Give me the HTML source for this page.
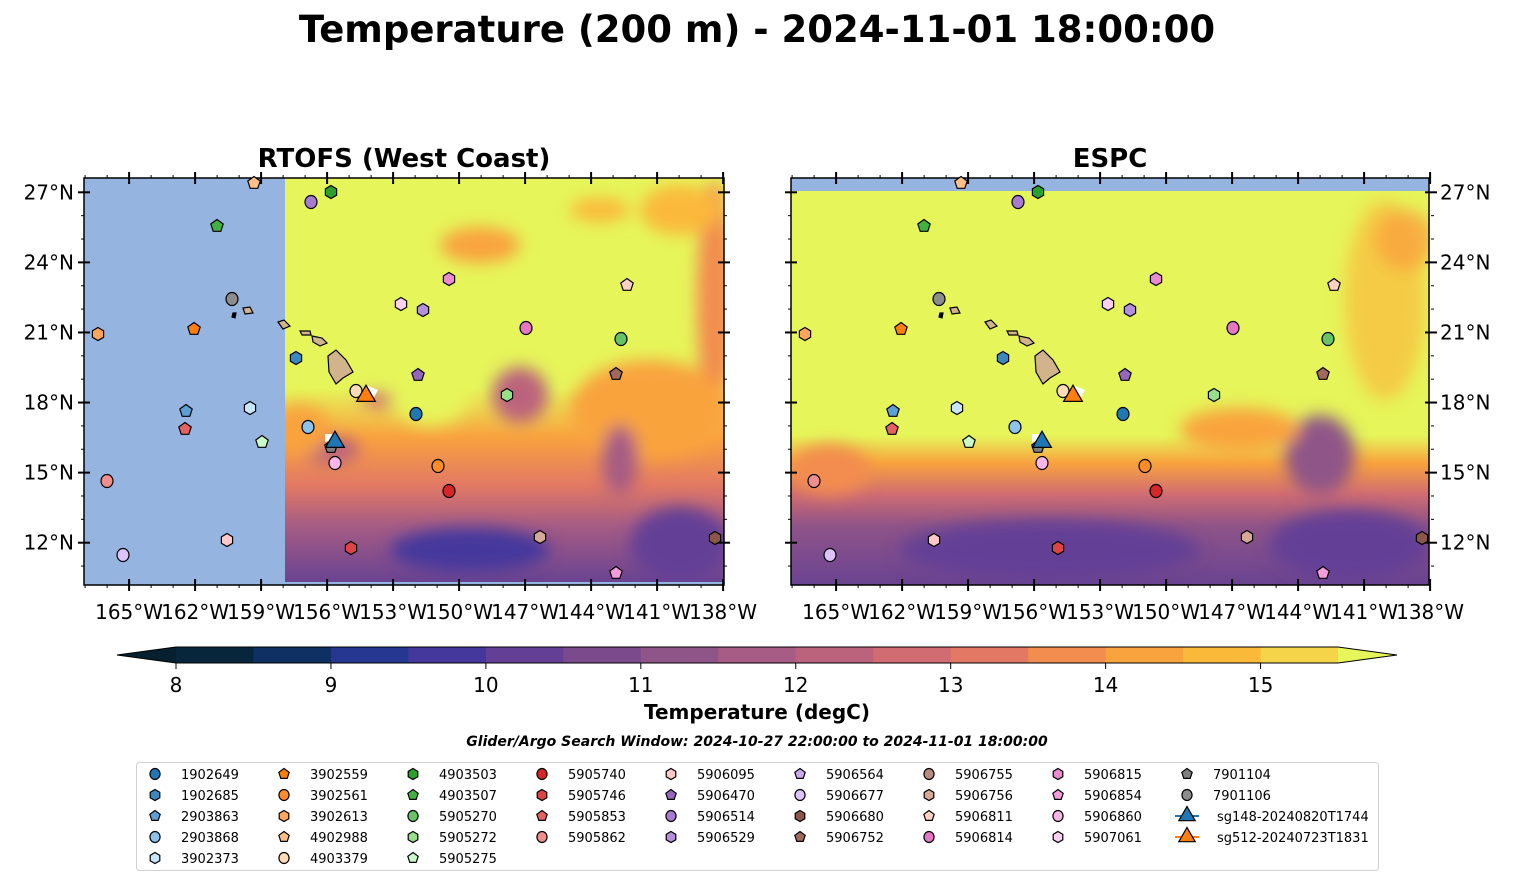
<!DOCTYPE html>
<html><head><meta charset="utf-8"><style>
body{margin:0;background:#fff;width:1514px;height:889px;overflow:hidden}
svg text{font-family:"DejaVu Sans","Liberation Sans",sans-serif}
</style></head><body>
<svg id="s" width="1514" height="889" xmlns="http://www.w3.org/2000/svg">
<defs>
<filter id="b8" x="-20%" y="-20%" width="140%" height="140%"><feGaussianBlur stdDeviation="8"/></filter>
<clipPath id="cl"><rect x="285" y="178" width="439" height="404"/></clipPath>
<clipPath id="cr"><rect x="791" y="191" width="638" height="394"/></clipPath>
<linearGradient id="gl" x1="0" y1="0" x2="0" y2="1">
<stop offset="0" stop-color="#e6f55a"/><stop offset="0.52" stop-color="#e6f55a"/>
<stop offset="0.64" stop-color="#f9a33e"/><stop offset="0.76" stop-color="#e37964"/>
<stop offset="0.86" stop-color="#a65c84"/><stop offset="1" stop-color="#6a4391"/></linearGradient>
<linearGradient id="gr" x1="0" y1="0" x2="0" y2="1">
<stop offset="0" stop-color="#e6f55a"/><stop offset="0.62" stop-color="#e6f55a"/>
<stop offset="0.69" stop-color="#f9a33e"/><stop offset="0.77" stop-color="#d06c72"/>
<stop offset="0.85" stop-color="#8f5488"/><stop offset="1" stop-color="#6a4391"/></linearGradient>
</defs>
<text x="757" y="42" font-size="37" font-weight="bold" text-anchor="middle">Temperature (200 m) - 2024-11-01 18:00:00</text>
<text x="404" y="167" font-size="26" font-weight="bold" text-anchor="middle">RTOFS (West Coast)</text>
<text x="1110" y="167" font-size="26" font-weight="bold" text-anchor="middle">ESPC</text>

<rect x="84" y="178" width="640" height="407" fill="#96b4e0"/>
<g clip-path="url(#cl)">
<rect x="285" y="178" width="439" height="404" fill="url(#gl)"/>
<g filter="url(#b8)">
<ellipse cx="480" cy="245" rx="40" ry="18" fill="#f9a33e"/>
<ellipse cx="715" cy="300" rx="18" ry="120" fill="#f28c4f"/>
<ellipse cx="680" cy="210" rx="40" ry="25" fill="#fbb93a"/>
<ellipse cx="600" cy="210" rx="30" ry="12" fill="#fbb93a"/>
<ellipse cx="650" cy="410" rx="80" ry="50" fill="#f9a33e"/>
<ellipse cx="520" cy="395" rx="28" ry="28" fill="#bb637d"/>
<ellipse cx="390" cy="400" rx="30" ry="8" fill="#d06c72"/>
<ellipse cx="330" cy="450" rx="30" ry="14" fill="#bb637d"/>
<ellipse cx="300" cy="430" rx="30" ry="25" fill="#f9a33e"/>
<ellipse cx="430" cy="395" rx="40" ry="30" fill="#e6f55a"/>
<ellipse cx="470" cy="550" rx="80" ry="22" fill="#45389d"/>
<ellipse cx="680" cy="545" rx="50" ry="38" fill="#643f96"/>
<ellipse cx="620" cy="460" rx="18" ry="35" fill="#a65c84"/>
</g></g>
<rect x="84" y="178" width="640" height="407" fill="none" stroke="#000" stroke-width="1.5"/>

<rect x="791" y="178" width="638" height="407" fill="#96b4e0"/>
<g clip-path="url(#cr)">
<rect x="791" y="191" width="638" height="394" fill="url(#gr)"/>
<g filter="url(#b8)">
<ellipse cx="1385" cy="300" rx="40" ry="100" fill="#fbb93a" opacity="0.7"/>
<ellipse cx="1405" cy="240" rx="30" ry="30" fill="#f9a33e" opacity="0.8"/>
<ellipse cx="1320" cy="455" rx="35" ry="40" fill="#8f5488"/>
<ellipse cx="1240" cy="430" rx="60" ry="22" fill="#f9a33e"/>
<ellipse cx="1050" cy="550" rx="150" ry="30" fill="#643f96"/>
<ellipse cx="1350" cy="545" rx="80" ry="35" fill="#643f96"/>
<ellipse cx="830" cy="470" rx="40" ry="25" fill="#f28c4f"/>
</g></g>
<rect x="791" y="178" width="638" height="407" fill="none" stroke="#000" stroke-width="1.5"/>
<g id="isl" fill="#d2b48c" stroke="#000" stroke-width="1.2"></g>
<g id="ticks" stroke="#000"></g>
<g id="labs" font-size="20"></g>
<g id="mk" stroke="#000" stroke-width="1.3"></g>
<g id="cb"></g>
<text x="757" y="719" font-size="20" font-weight="bold" text-anchor="middle">Temperature (degC)</text>
<text x="757" y="746" font-size="14" font-weight="bold" font-style="italic" text-anchor="middle">Glider/Argo Search Window: 2024-10-27 22:00:00 to 2024-11-01 18:00:00</text>
<rect x="136.5" y="762.5" width="1242" height="108" rx="3" fill="#fff" stroke="#d0d0d0"/>
<g id="lg" font-size="13"></g>
</svg>
<script>
(function(){
const NS="http://www.w3.org/2000/svg";
function el(p,t,a,txt){const e=document.createElementNS(NS,t);for(const k in a)e.setAttribute(k,a[k]);if(txt!==undefined)e.textContent=txt;document.getElementById(p).appendChild(e);return e;}
const X=lon=>84+(lon+167.05)*22.0, Y=lat=>192.3+(27-lat)*23.36;
[0,707].forEach((off,i)=>{
 for(let lon=-167;lon<=-138;lon++){const x=X(lon)+off;const maj=(lon+165)%3==0&&lon>=-165;const L=maj?6:3;
  el("ticks","line",{x1:x,y1:178-L,x2:x,y2:178+(maj?L:0),"stroke-width":maj?2:1});
  el("ticks","line",{x1:x,y1:585-(maj?L:0),x2:x,y2:585+L,"stroke-width":maj?2:1});
  if(maj)el("labs","text",{x:x,y:619,"text-anchor":"middle"},(-lon)+"°W");}
 for(let lat=11;lat<=27;lat++){const y=Y(lat);const maj=lat%3==0;const L=maj?6:3;const x0=84+off,x1=724+off;
  el("ticks","line",{x1:x0-L,y1:y,x2:x0+(maj?L:0),y2:y,"stroke-width":maj?2:1});
  el("ticks","line",{x1:x1-(maj?L:0),y1:y,x2:x1+L,y2:y,"stroke-width":maj?2:1});
  if(maj){ if(i==0)el("labs","text",{x:74,y:y+7,"text-anchor":"end"},lat+"°N");
   else el("labs","text",{x:1440,y:y+7},lat+"°N");}}
});
[0,707].forEach(off=>{
 el("isl","path",{d:`M${328+off},356 L${336+off},350 L${346+off},360 L${353+off},372 L${343+off},378 L${336+off},384 L${329+off},372 Z`});
 el("isl","path",{d:`M${312+off},336 L${322+off},338 L${327+off},343 L${320+off},346 L${313+off},342 Z`});
 el("isl","path",{d:`M${300+off},331 L${310+off},331 L${311+off},335 L${302+off},335 Z`});
 el("isl","path",{d:`M${278+off},322 L${284+off},320 L${290+off},326 L${283+off},329 Z`});
 el("isl","path",{d:`M${243+off},308 L${250+off},307 L${253+off},313 L${245+off},314 Z`});
 el("isl","path",{d:`M${233+off},313 L${236+off},313 L${235+off},318 L${232+off},317 Z`,fill:"#000"});
});
function shape(p,t,x,y,c,r){
 if(t=="o")return el(p,"ellipse",{cx:x,cy:y,rx:r*0.92,ry:r,fill:c,stroke:"#000","stroke-width":1.2});
 let n=t=="p"?5:t=="h"?6:3, pts=[], rr=t=="^"?r*1.35:r;
 for(let k=0;k<n;k++){const a=-Math.PI/2+k*2*Math.PI/n;pts.push((x+rr*Math.cos(a)).toFixed(1)+","+(y+rr*Math.sin(a)+(t=="^"?2:0)).toFixed(1));}
 return el(p,"polygon",{points:pts.join(" "),fill:c,stroke:"#000","stroke-width":1.2});
}
const M=[
["1902649","o","#1f77b4",416,414],["1902685","h","#3a88c0",296,358],["2903863","p","#5da0d6",186,411],["2903868","o","#8bc3ea",308,427],["3902373","h","#c8e5fb",250,408],
["3902559","p","#ff7f0e",194,329],["3902561","o","#ff8c2a",438,466],["3902613","h","#ffa55c",98,334],["4902988","p","#ffbf88",254,183],["4903379","o","#ffdcb8",356,391],
["4903503","h","#2ca02c",331,192],["4903507","p","#42b142",217,226],["5905270","o","#66c466",621,339],["5905272","h","#98df8a",507,395],["5905275","p","#c8fbc8",262,442],
["5905740","o","#d62728",449,491],["5905746","h","#de4446",351,548],["5905853","p","#e66262",185,429],["5905862","o","#f08e8e",107,481],
["5906095","h","#ffc8c8",227,540],["5906470","p","#9467bd",418,375],["5906514","o","#a67bd0",311,202],["5906529","h","#b48fdc",423,310],
["5906564","p","#caa9ef",null,null],["5906677","o","#dcc4fb",123,555],["5906680","h","#8c564b",715,538],["5906752","p","#a0695d",616,374],
["5906755","o","#b98a7f",null,null],["5906756","h","#d6a897",540,537],["5906811","p","#ffd2c4",627,285],["5906814","o","#e377c2",526,328],
["5906815","h","#ea8ad1",449,279],["5906854","p","#f29cd9",616,573],["5906860","o","#f7b6e6",335,463],["5907061","h","#fcd0f0",401,304],
["7901104","p","#7f7f7f",331,447],["7901106","o","#8c8c8c",232,299],
["sg148-20240820T1744","^","#1f77b4",335,440],["sg512-20240723T1831","^","#ff7f0e",366,394]];
[0,707].forEach(off=>{el("mk","polygon",{points:`${368+off},386 ${378+off},390 ${373+off},399 ${366+off},397`,fill:"#fff",stroke:"none"});
 el("mk","polygon",{points:`${325+off},434 ${332+off},434 ${332+off},440 ${325+off},442`,fill:"#fff",stroke:"none"});});
M.forEach(m=>{if(m[3]==null)return;[0,707].forEach(off=>shape("mk",m[1],m[3]+off,m[4],m[2],m[1]=="^"?8:6.5));});
const cols=[5,5,5,4,4,4,4,4,4]; let i=0;
cols.forEach((n,c)=>{for(let r=0;r<n;r++,i++){const m=M[i];const x=155+c*129,y=774+r*21;
 if(m[1]=="^"){el("lg","line",{x1:x-12,y1:y,x2:x+12,y2:y,stroke:m[2],"stroke-width":2});shape("lg","^",x,y-2,m[2],7);}
 else shape("lg",m[1],x,y,m[2],5.5);
 el("lg","text",{x:x+(m[1]=="^"?30:26),y:y+5},m[0]);}});
const cs=["#07263c","#0f3062","#263791","#45389d","#643f96","#7a4a8d","#8f5488","#a65c84","#bb637d","#d06c72","#e37964","#f28c4f","#f9a33e","#fbb93a","#f6d44a"];
const x0=176,w=77.47;
el("cb","polygon",{points:`117,655 ${x0},647 ${x0},663`,fill:"#06202f"});
cs.forEach((c,k)=>el("cb","rect",{x:x0+k*w,y:647,width:w+0.5,height:16,fill:c}));
el("cb","polygon",{points:`${x0+15*w},647 1397,655 ${x0+15*w},663`,fill:"#e6f55a"});
el("cb","polygon",{points:`117,655 ${x0},647 ${x0+15*w},647 1397,655 ${x0+15*w},663 ${x0},663`,fill:"none",stroke:"#000","stroke-width":1});
for(let v=8;v<=15;v++){const x=x0+(v-8)*2*w;el("cb","line",{x1:x,y1:663,x2:x,y2:669,stroke:"#000","stroke-width":1});
 el("cb","text",{x:x,y:692,"font-size":20,"text-anchor":"middle"},String(v));}
})();
</script>
</body></html>
